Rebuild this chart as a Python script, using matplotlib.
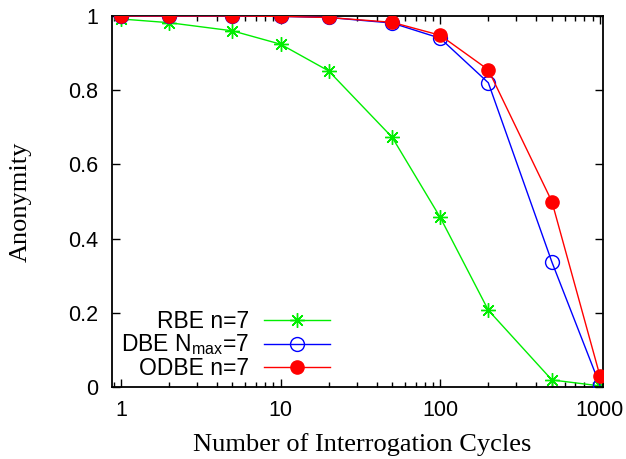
import matplotlib.pyplot as plt
import numpy as np
from matplotlib.ticker import LogLocator, NullFormatter

cycles = [1, 2, 5, 10, 20, 50, 100, 200, 500, 1000]
rbe = [0.992, 0.982, 0.960, 0.924, 0.852, 0.673, 0.457, 0.207, 0.019, 0.003]
dbe = [1.0, 1.0, 1.0, 0.999, 0.996, 0.981, 0.940, 0.820, 0.337, 0.005]
odbe = [1.0, 1.0, 1.0, 0.999, 0.996, 0.983, 0.948, 0.855, 0.500, 0.030]

labels = ['RBE n=7', r'DBE N$_{\mathrm{max}}$=7', 'ODBE n=7']

sans = ['Liberation Sans', 'DejaVu Sans']
serif = ['Liberation Serif', 'DejaVu Serif']
plt.rcParams['font.family'] = sans
plt.rcParams['mathtext.fontset'] = 'custom'
plt.rcParams['mathtext.rm'] = 'Liberation Sans'

W, H = 626, 459
fig = plt.figure(figsize=(W/100, H/100), dpi=100)
ax = fig.add_axes([112/W, 1 - 387/H, (603-112)/W, (387-16)/H])

ax.plot(cycles, rbe, color='#00ee00', lw=1.0, marker=(8, 2, 0), ms=10.5,
        mew=1.0, label=labels[0], zorder=2)
ax.plot(cycles, dbe, color='#0000ff', lw=1.0, marker='o', ms=10,
        mfc='none', mew=1.0, label=labels[1], zorder=3)
ax.plot(cycles, odbe, color='#ff0000', lw=1.0, marker='o', ms=9.5,
        mfc='#ff0000', mew=1.0, label=labels[2], zorder=4)

ax.set_xscale('log')
ax.set_xlim(0.88, 1045)
ax.set_ylim(0, 1)
ax.set_xticks([1, 10, 100, 1000])
ax.set_xticklabels(['1', '10', '100', '1000'])
ax.xaxis.set_minor_locator(LogLocator(base=10, subs=np.arange(2, 10)))
ax.xaxis.set_minor_formatter(NullFormatter())
ax.set_yticks([0, 0.2, 0.4, 0.6, 0.8, 1])
ax.set_yticklabels(['0', '0.2', '0.4', '0.6', '0.8', '1'])

ax.tick_params(which='both', direction='in', top=True, right=True,
               labelsize=15.5, width=1.0)
ax.tick_params(which='major', length=6)
ax.tick_params(which='minor', length=3.5)
ax.tick_params(axis='x', which='major', pad=9.5)
ax.tick_params(axis='y', which='major', pad=10)
for s in ax.spines.values():
    s.set_linewidth(1.3)

ax.set_xlabel('Number of Interrogation Cycles', family=serif, fontsize=19)
ax.xaxis.set_label_coords(0.509, -0.124)
ax.set_ylabel('Anonymity', family=serif, fontsize=19)
ax.yaxis.set_label_coords(-0.163, 0.5)

# legend anchored by pixel position of the handle's right end
ax.legend(loc='center right', bbox_to_anchor=(330/W, 1 - 345/H),
          bbox_transform=fig.transFigure, markerfirst=False,
          frameon=False, fontsize=16.5, handlelength=2.9, handletextpad=0.65,
          labelspacing=0.0, borderaxespad=0, borderpad=0)

fig.savefig('out.png', dpi=100)
